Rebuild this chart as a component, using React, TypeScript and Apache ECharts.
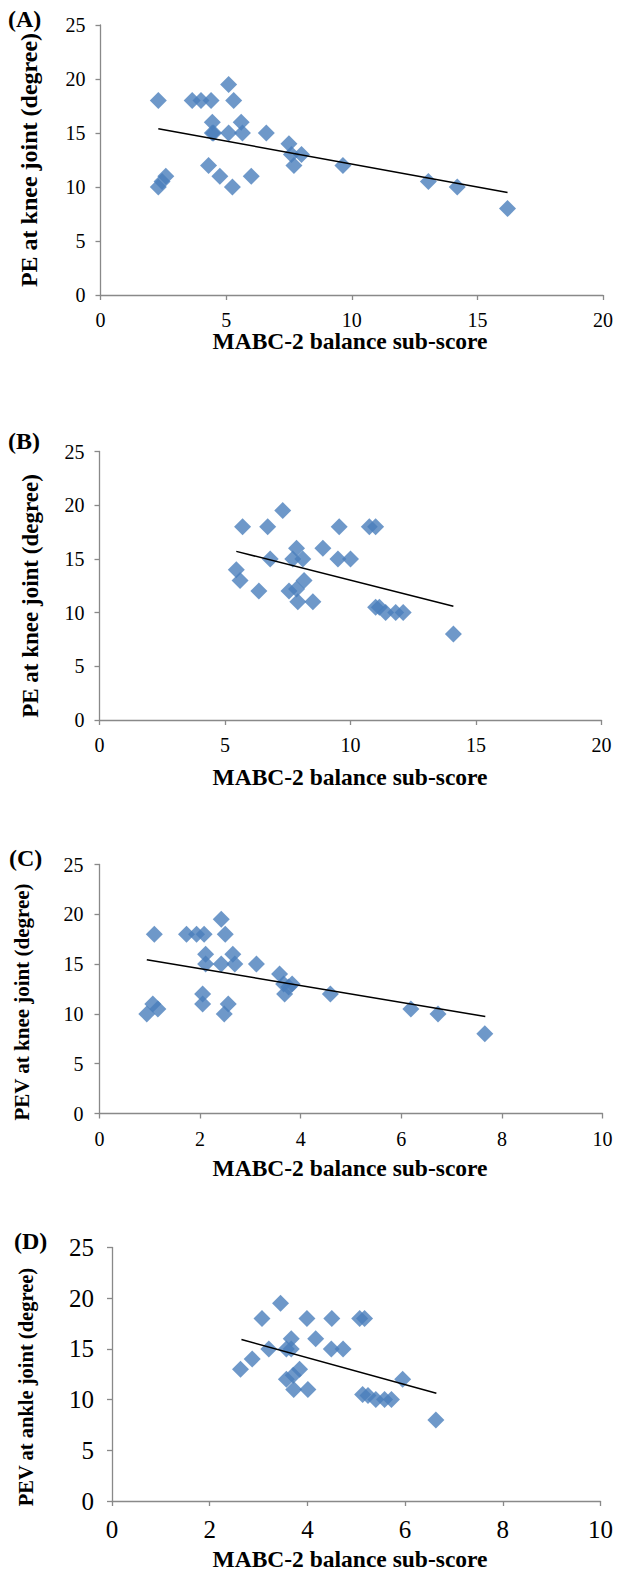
import React, { useEffect, useRef } from "react";
import * as echarts from "echarts";

// ---- Panel A: PE at knee joint vs MABC-2 balance sub-score ----
const aX = [2.3, 3.65, 4.0, 4.4, 5.1, 5.3, 4.45, 5.6, 4.45, 4.5, 5.1, 5.65, 6.6, 7.5, 7.6, 8.0, 7.7, 9.65, 4.3, 4.75, 6.0, 5.25, 2.3, 2.45, 2.6, 13.05, 14.2, 16.2];
const aY = [18, 18, 18, 18, 19.5, 18, 16, 16, 15, 15, 15, 15, 15, 14, 13, 13, 12, 12, 12, 11, 11, 10, 10, 10.5, 11, 10.5, 10, 8];
const aTrendX = [2.3, 16.2];
const aTrendY = [15.4, 9.5];

// ---- Panel B ----
const bX = [5.7, 6.7, 7.3, 9.55, 10.75, 11.0, 7.85, 8.9, 6.8, 7.7, 8.1, 9.5, 10.0, 5.45, 5.6, 6.35, 7.55, 7.85, 8.15, 7.9, 8.5, 11.0, 11.15, 11.4, 11.8, 12.1, 14.1];
const bY = [18, 18, 19.5, 18, 18, 18, 16, 16, 15, 15, 15, 15, 15, 14, 13, 12, 12, 12.2, 13, 11, 11, 10.5, 10.5, 10, 10, 10, 8];
const bTrendX = [5.45, 14.1];
const bTrendY = [15.7, 10.6];

// ---- Panel C ----
const cX = [1.09, 1.73, 1.93, 2.08, 2.42, 2.5, 2.11, 2.65, 2.11, 2.42, 2.69, 3.12, 3.58, 3.66, 3.83, 3.68, 3.76, 4.59, 2.05, 2.05, 2.56, 2.48, 0.94, 1.06, 1.16, 6.19, 6.73, 7.66];
const cY = [18, 18, 18, 18, 19.5, 18, 16, 16, 15, 15, 15, 15, 14, 13, 13, 12, 12.7, 12, 12, 11, 11, 10, 10, 11, 10.5, 10.5, 10, 8];
const cTrendX = [0.94, 7.67];
const cTrendY = [15.44, 9.73];

// ---- Panel D: PEV at ankle joint ----
const dX = [3.45, 3.07, 3.99, 4.5, 5.07, 5.17, 3.67, 4.17, 3.21, 3.57, 3.67, 4.49, 4.73, 2.87, 2.63, 3.84, 3.57, 3.71, 5.95, 3.72, 4.01, 5.13, 5.24, 5.4, 5.58, 5.72, 6.63];
const dY = [19.5, 18, 18, 18, 18, 18, 16, 16, 15, 15, 15, 15, 15, 14, 13, 13, 12, 12.4, 12, 11, 11, 10.5, 10.4, 10, 10, 10, 8];
const dTrendX = [2.65, 6.64];
const dTrendY = [15.92, 10.63];

const panelLetters = ["(A)", "(B)", "(C)", "(D)"];
const yTitles = [
  "PE at knee joint (degree)",
  "PE at knee joint (degree)",
  "PEV at knee joint (degree)",
  "PEV at ankle joint (degree)",
];
const xTitle = "MABC-2 balance sub-score";
const xMaxes = [20, 20, 10, 10];
const xIntervals = [5, 5, 2, 2];

const SERIF = "Liberation Serif";

export default function App() {
  const ref = useRef<HTMLDivElement>(null);
  useEffect(() => {
    if (!ref.current) return;
    const chart = echarts.init(ref.current, null, { renderer: "svg" });

    const panels = [
      { xs: aX, ys: aY, tx: aTrendX, ty: aTrendY },
      { xs: bX, ys: bY, tx: bTrendX, ty: bTrendY },
      { xs: cX, ys: cY, tx: cTrendX, ty: cTrendY },
      { xs: dX, ys: dY, tx: dTrendX, ty: dTrendY },
    ];

    const layout = [
      { left: 100.5, width: 502.5, top: 25, height: 270, tick: 20, yLab: 15, xLab: 15, letter: [8, 7], yT: [29, 160], xT: [350, 341], yTs: 24, xTs: 23.5 },
      { left: 99.5, width: 502, top: 451.5, height: 268.5, tick: 20, yLab: 15, xLab: 15, letter: [8, 429], yT: [30, 596], xT: [350, 777], yTs: 23, xTs: 23.5 },
      { left: 99.5, width: 503, top: 864.5, height: 249, tick: 20, yLab: 16, xLab: 15, letter: [9, 846], yT: [22, 1002], xT: [350, 1168], yTs: 21, xTs: 23.5 },
      { left: 112, width: 488.5, top: 1247.5, height: 253.5, tick: 25, yLab: 18, xLab: 16, letter: [14, 1229], yT: [26, 1387], xT: [350, 1559], yTs: 20.5, xTs: 23.5 },
    ];

    const grid: any[] = [];
    const xAxis: any[] = [];
    const yAxis: any[] = [];
    const series: any[] = [];
    const graphic: any[] = [];

    const axisLine = { show: true, lineStyle: { color: "#898989", width: 1.3 } };
    const axisTick = { show: true, length: 5, lineStyle: { color: "#898989", width: 1.3 } };

    panels.forEach((p, i) => {
      const L = layout[i];
      grid.push({ left: L.left, top: L.top, width: L.width, height: L.height, containLabel: false });
      xAxis.push({
        type: "value",
        gridIndex: i,
        min: 0,
        max: xMaxes[i],
        interval: xIntervals[i],
        axisLine,
        axisTick,
        splitLine: { show: false },
        axisLabel: { color: "#000", fontFamily: SERIF, fontSize: L.tick, margin: L.xLab },
      });
      yAxis.push({
        type: "value",
        gridIndex: i,
        min: 0,
        max: 25,
        interval: 5,
        axisLine,
        axisTick,
        splitLine: { show: false },
        axisLabel: { color: "#000", fontFamily: SERIF, fontSize: L.tick, margin: L.yLab },
      });
      series.push({
        type: "scatter",
        xAxisIndex: i,
        yAxisIndex: i,
        symbol: "diamond",
        symbolSize: 17,
        itemStyle: { color: "#4a7ebb" },
        data: p.xs.map((x, k) => [x, p.ys[k]]),
        z: 2,
      });
      series.push({
        type: "line",
        xAxisIndex: i,
        yAxisIndex: i,
        showSymbol: false,
        symbol: "none",
        lineStyle: { color: "#000", width: 1.5 },
        data: p.tx.map((x, k) => [x, p.ty[k]]),
        z: 3,
      });
      graphic.push({
        type: "text",
        left: L.letter[0],
        top: L.letter[1],
        style: { text: panelLetters[i], fontFamily: SERIF, fontWeight: "bold", fontSize: 24, fill: "#000" },
      });
      graphic.push({
        type: "text",
        x: L.yT[0],
        y: L.yT[1],
        rotation: Math.PI / 2,
        style: {
          text: yTitles[i],
          fontFamily: SERIF,
          fontWeight: "bold",
          fontSize: L.yTs,
          fill: "#000",
          align: "center",
          verticalAlign: "middle",
        },
      });
      graphic.push({
        type: "text",
        x: L.xT[0],
        y: L.xT[1],
        style: {
          text: xTitle,
          fontFamily: SERIF,
          fontWeight: "bold",
          fontSize: L.xTs,
          fill: "#000",
          align: "center",
          verticalAlign: "middle",
        },
      });
    });

    chart.setOption({
      animation: false,
      backgroundColor: "#fff",
      grid,
      xAxis,
      yAxis,
      series,
      graphic,
    });
    return () => chart.dispose();
  }, []);

  return (
    <div
      ref={ref}
      style={{ position: "absolute", left: 0, top: 0, width: 628, height: 1575 }}
    />
  );
}
